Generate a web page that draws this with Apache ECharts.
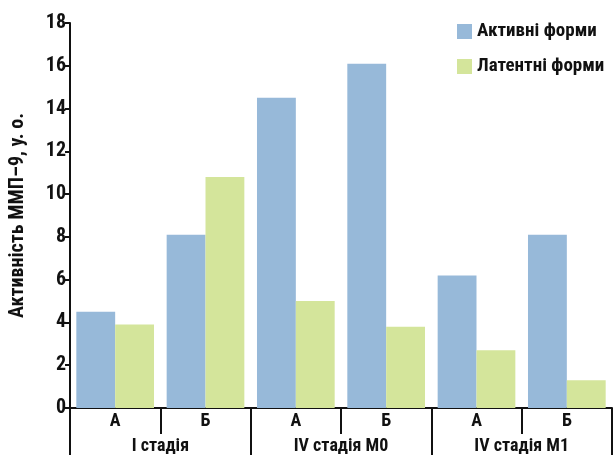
<!DOCTYPE html>
<html>
<head>
<meta charset="utf-8">
<script src="https://cdn.jsdelivr.net/npm/echarts@6/dist/echarts.min.js"></script>
<style>
  html, body { margin: 0; padding: 0; background: #fff; }
  #chart { width: 614px; height: 455px; }
</style>
</head>
<body>
<div id="chart"></div>
<script>
// дані
const subCategories = ['А', 'Б', 'А', 'Б', 'А', 'Б']
const groups = ['I стадія', 'IV стадія M0', 'IV стадія M1']
const activeForms = [4.5, 8.1, 14.5, 16.1, 6.2, 8.1]
const latentForms = [3.9, 10.8, 5.0, 3.8, 2.7, 1.3]
const seriesNames = ['Активні форми', 'Латентні форми']
const yTicks = { min: 0, max: 18, interval: 2 }

const font = '"Liberation Sans Narrow", "Roboto Condensed", "Liberation Sans", sans-serif'

const chart = echarts.init(document.getElementById('chart'))
const option = {
  animation: false,
  textStyle: { fontFamily: font },
  legend: {
    orient: 'vertical',
    left: 452,
    top: 17,
    itemWidth: 15,
    itemHeight: 15,
    itemGap: 16,
    icon: 'rect',
    textStyle: { fontFamily: font, fontSize: 19, fontWeight: 'bold', color: '#111' },
    data: seriesNames
  },
  grid: { left: 70, right: 2, top: 23, bottom: 47 },
  xAxis: [
    {
      type: 'category',
      data: subCategories,
      axisLine: { lineStyle: { color: '#111', width: 2 } },
      axisTick: { show: true, interval: 0, length: 26, lineStyle: { color: '#111', width: 2 } },
      axisLabel: { interval: 0, margin: 4, fontSize: 18, fontWeight: 'bold', color: '#111', fontFamily: font }
    },
    {
      type: 'category',
      data: groups,
      position: 'bottom',
      axisLine: { show: false },
      axisTick: { show: true, interval: 0, length: 50, lineStyle: { color: '#111', width: 2 } },
      axisLabel: { interval: 0, margin: 29, fontSize: 18, fontWeight: 'bold', color: '#111', fontFamily: font }
    }
  ],
  yAxis: {
    type: 'value',
    min: yTicks.min,
    max: yTicks.max,
    interval: yTicks.interval,
    name: 'Активність ММП–9, у. о.',
    nameLocation: 'middle',
    nameGap: 42,
    nameTextStyle: { fontFamily: font, fontSize: 20, fontWeight: 'bold', color: '#111' },
    axisLine: { show: true, lineStyle: { color: '#111', width: 2 } },
    axisTick: { show: true, length: 5, lineStyle: { color: '#111', width: 2 } },
    axisLabel: { margin: 4, fontSize: 20, fontWeight: 'bold', color: '#111', fontFamily: font },
    splitLine: { show: false }
  },
  series: [
    {
      name: seriesNames[0],
      type: 'bar',
      data: activeForms,
      barGap: '0%',
      barCategoryGap: '14%',
      itemStyle: { color: '#97b9d9' }
    },
    {
      name: seriesNames[1],
      type: 'bar',
      data: latentForms,
      itemStyle: { color: '#d4e59b' }
    }
  ]
}
chart.setOption(option)
</script>
</body>
</html>
